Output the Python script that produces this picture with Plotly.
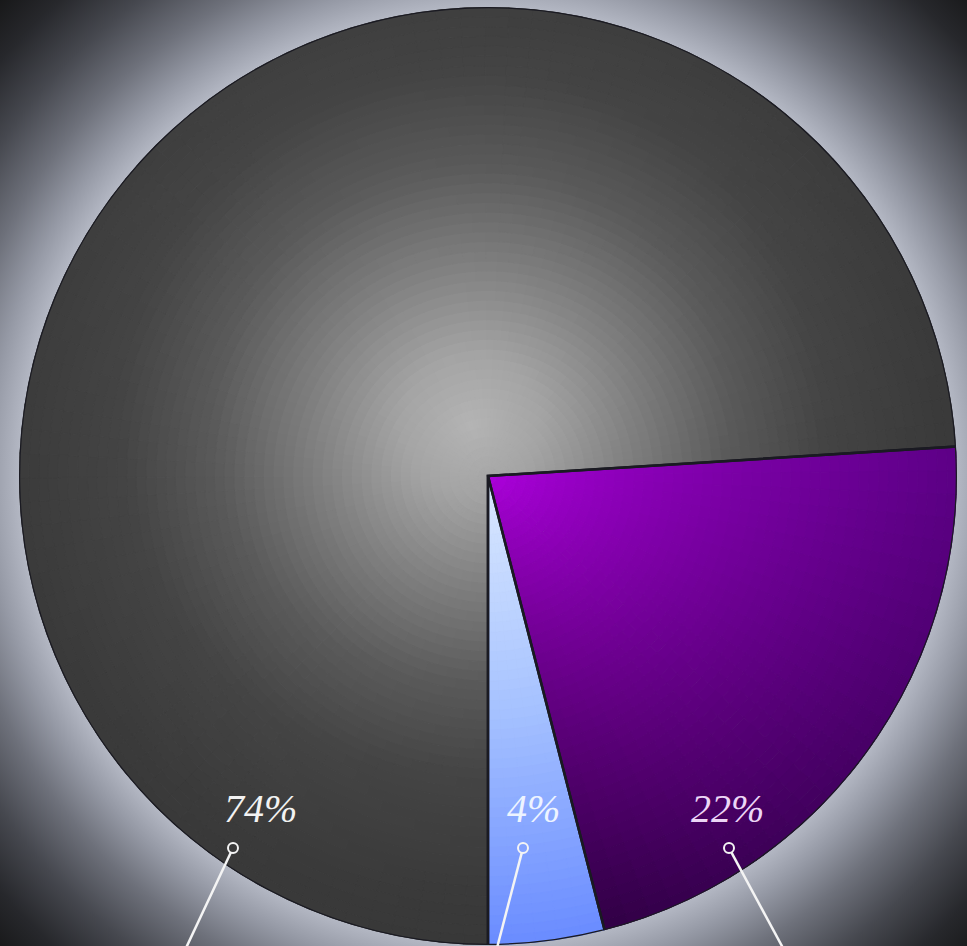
import base64
import numpy as np
import plotly.graph_objects as go

# ---------------- data ----------------
categories = ["Grey", "Purple", "Blue"]
values = [74, 22, 4]
label_texts = [f"{v}%" for v in values]

# ---------------- style ----------------
W, H = 967, 946
CX, CY, R = 488, 476, 469          # pie centre / radius in pixels
START = 180                         # first slice starts straight down, clockwise

def hex2rgb(h):
    h = h.lstrip("#")
    return np.array([int(h[i:i + 2], 16) for i in (0, 2, 4)], float)

def to_rgb(c):
    c = np.clip(np.round(c), 0, 255)
    return "rgb(%d,%d,%d)" % tuple(c)

def ramp(stops, t):
    ts = [s[0] for s in stops]
    cs = [hex2rgb(s[1]) for s in stops]
    t = min(max(t, ts[0]), ts[-1])
    for k in range(len(ts) - 1):
        if ts[k] <= t <= ts[k + 1]:
            f = (t - ts[k]) / (ts[k + 1] - ts[k])
            return to_rgb(cs[k] * (1 - f) + cs[k + 1] * f)
    return to_rgb(cs[-1])

grey_stops = [(0, "#b4b4b4"), (0.15, "#a4a4a4"), (0.35, "#7e7e7e"),
              (0.55, "#5a5a5a"), (0.75, "#444444"), (1.0, "#3a3a3a"), (1.3, "#353535")]
blue_stops = [(0, "#dceaff"), (0.5, "#a6c2ff"), (1.0, "#6a8cff")]

def grey_col(x, y, r, th):
    d = np.hypot(x + 0.035, y - 0.11)
    return ramp(grey_stops, d)

def purple_col(x, y, r, th):
    f = min(max(((th % 360) - 86) / 80.0, 0), 1)
    edge = hex2rgb("#5e0088") * (1 - f) + hex2rgb("#300044") * f
    c0 = hex2rgb("#b000e0")
    t = r ** 0.7
    return to_rgb(c0 * (1 - t) + edge * t)

def blue_col(x, y, r, th):
    return ramp(blue_stops, r)

col_funcs = [grey_col, purple_col, blue_col]

fig = go.Figure()

total = float(sum(values))
a0 = START
centers, widths = [], []
NR = 48
for i, v in enumerate(values):
    span = v / total * 360.0
    centers.append(a0 + span / 2)
    widths.append(span)
    nt = max(3, int(np.ceil(span / 3.0)))
    redges = np.linspace(0, 1, NR + 1)
    tedges = np.linspace(a0, a0 + span, nt + 1)
    th_l, w_l, base_l, r_l, c_l = [], [], [], [], []
    for j in range(NR):
        rm = (redges[j] + redges[j + 1]) / 2
        for k in range(nt):
            tm = (tedges[k] + tedges[k + 1]) / 2
            x = rm * np.sin(np.radians(tm))
            y = rm * np.cos(np.radians(tm))
            th_l.append(tm % 360)
            w_l.append(tedges[k + 1] - tedges[k])
            base_l.append(redges[j])
            r_l.append(redges[j + 1] - redges[j])
            c_l.append(col_funcs[i](x, y, rm, tm))
    fig.add_trace(go.Barpolar(
        r=r_l, base=base_l, theta=th_l, width=w_l,
        marker=dict(color=c_l, line=dict(color=c_l, width=1)),
        name=categories[i], hoverinfo="skip", showlegend=False))
    a0 += span

# slice outlines
fig.add_trace(go.Barpolar(
    r=[1] * len(values), theta=[c % 360 for c in centers], width=widths,
    marker=dict(color="rgba(0,0,0,0)", line=dict(color="#1a1a22", width=2.5)),
    text=label_texts, hovertext=[f"{c}: {t}" for c, t in zip(categories, label_texts)],
    hoverinfo="text", showlegend=False))

# background glow (radial gradient image)
GR = 700
gstops = [(468, "#b4b8c4"), (500, "#9599a5"), (540, "#6e717b"), (590, "#46484f"),
          (640, "#27282c"), (700, "#111111")]
stop_xml = "".join(f'<stop offset="{r/GR:.4f}" stop-color="{c}"/>' for r, c in gstops)
svg = (f'<svg xmlns="http://www.w3.org/2000/svg" width="{W}" height="{H}">'
       f'<defs><radialGradient id="g" gradientUnits="userSpaceOnUse" cx="{CX}" cy="{CY}" r="{GR}">'
       f'{stop_xml}</radialGradient></defs>'
       f'<rect width="{W}" height="{H}" fill="url(#g)"/></svg>')
src = "data:image/svg+xml;base64," + base64.b64encode(svg.encode()).decode()

def px(x):
    return x / W

def py(y):
    return 1 - y / H

# label placement (pixels): text centre, marker, line end
label_pos = [(260, 808), (727, 808), (533, 808)]
marker_pos = [(233, 848), (729, 848), (523, 848)]
line_end = [(186, 946), (783, 946), (497, 946)]
label_colors = ["#f2f2f2", "#ecd6f6", "#eef4ff"]

annotations = []
shapes = []
for i in range(len(values)):
    lx, ly = label_pos[i]
    annotations.append(dict(
        x=px(lx), y=py(ly), xref="paper", yref="paper", text=label_texts[i],
        showarrow=False, xanchor="center", yanchor="middle",
        font=dict(family="Liberation Serif", size=40, color=label_colors[i], style="italic")))
    mx, my = marker_pos[i]
    ex, ey = line_end[i]
    dx, dy = ex - mx, ey - my
    L = np.hypot(dx, dy)
    sx, sy = mx + dx / L * 5, my + dy / L * 5
    shapes.append(dict(type="line", xref="paper", yref="paper",
                       x0=px(sx), y0=py(sy), x1=px(ex), y1=py(ey + 2),
                       line=dict(color="#f4f4f4", width=2.5)))
    shapes.append(dict(type="circle", xref="paper", yref="paper",
                       x0=px(mx - 5), x1=px(mx + 5), y0=py(my + 5), y1=py(my - 5),
                       line=dict(color="#f4f4f4", width=2)))

fig.update_layout(
    width=W, height=H,
    margin=dict(l=0, r=0, t=0, b=0, pad=0),
    paper_bgcolor="#111111",
    plot_bgcolor="rgba(0,0,0,0)",
    images=[dict(source=src, xref="paper", yref="paper", x=0, y=1, sizex=1, sizey=1,
                 sizing="stretch", layer="below", xanchor="left", yanchor="top")],
    polar=dict(
        domain=dict(x=[(CX - R) / W, (CX + R) / W],
                    y=[max(0, (H - CY - R) / H), min(1, (H - CY + R) / H)]),
        bgcolor="rgba(0,0,0,0)",
        bargap=0,
        radialaxis=dict(visible=False, range=[0, 1]),
        angularaxis=dict(visible=False, rotation=90, direction="clockwise"),
    ),
    annotations=annotations,
    shapes=shapes,
    showlegend=False,
)

fig.write_html("out.html")
